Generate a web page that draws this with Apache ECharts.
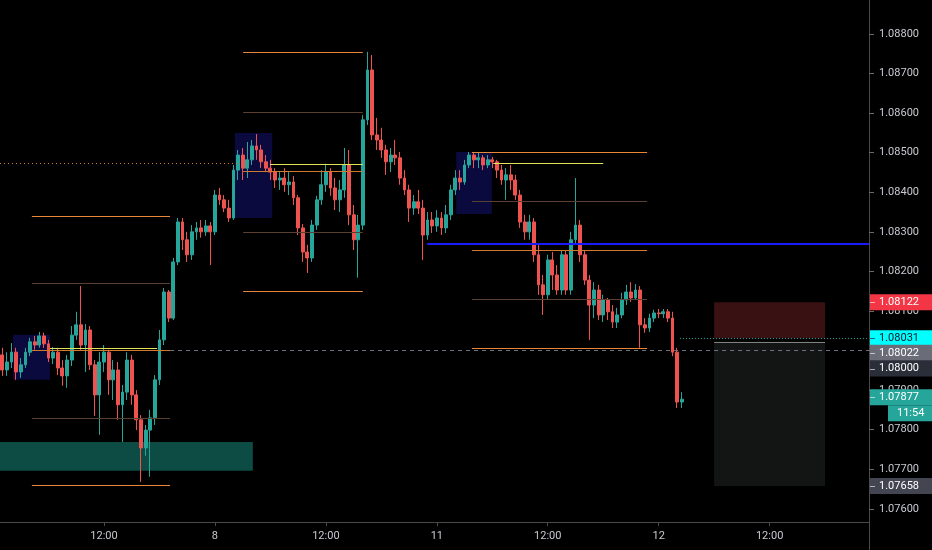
<!DOCTYPE html>
<html><head><meta charset="utf-8">
<script src="https://cdn.jsdelivr.net/npm/echarts@6/dist/echarts.min.js"></script>
<style>html,body{margin:0;padding:0;background:#000;}#c{width:932px;height:550px;}</style>
</head><body><div id="c"></div>
<script>
// ---- data ----
// 30-minute EURUSD candles: [open, close, low, high]
const candles = [
[1.07989,1.07951,1.07936,1.08007],[1.07951,1.07971,1.07936,1.07996],[1.07971,1.07996,1.07956,1.08019],[1.07996,1.07946,1.07926,1.08007],
[1.07946,1.07964,1.07931,1.07981],[1.07964,1.07996,1.07956,1.08007],[1.07996,1.08022,1.07986,1.08032],[1.08022,1.08014,1.08002,1.08037],
[1.08014,1.08037,1.08007,1.08047],[1.08037,1.08017,1.08007,1.08045],[1.08017,1.07981,1.07971,1.08027],[1.07981,1.07996,1.07966,1.08009],
[1.07996,1.07956,1.07938,1.08007],[1.07956,1.07936,1.07911,1.07976],[1.07936,1.07976,1.07906,1.07989],[1.07976,1.08039,1.07961,1.08062],
[1.08039,1.08065,1.08027,1.08098],[1.08065,1.08014,1.08002,1.08163],[1.08014,1.08052,1.07946,1.08067],[1.08052,1.07964,1.07951,1.08062],
[1.07964,1.07888,1.07835,1.07976],[1.07888,1.07971,1.07787,1.07996],[1.07971,1.07996,1.07946,1.08014],[1.07996,1.07926,1.07888,1.08002],
[1.07926,1.07951,1.07875,1.07976],[1.07951,1.07863,1.07825,1.07971],[1.07863,1.07895,1.07769,1.07913],[1.07895,1.07976,1.07875,1.07996],
[1.07976,1.07888,1.07863,1.07989],[1.07888,1.07825,1.07799,1.07900],[1.07825,1.07754,1.07668,1.07837],[1.07754,1.07799,1.07734,1.07812],
[1.07799,1.07830,1.07681,1.07850],[1.07830,1.07926,1.07812,1.07938],[1.07926,1.08027,1.07913,1.08052],[1.08027,1.08148,1.08014,1.08158],
[1.08148,1.08082,1.08072,1.08153],[1.08082,1.08224,1.08077,1.08234],[1.08224,1.08325,1.08216,1.08335],[1.08325,1.08280,1.08254,1.08335],
[1.08280,1.08242,1.08224,1.08300],[1.08242,1.08300,1.08229,1.08317],[1.08300,1.08310,1.08280,1.08325],[1.08310,1.08300,1.08285,1.08330],
[1.08300,1.08315,1.08290,1.08330],[1.08315,1.08300,1.08216,1.08325],[1.08300,1.08393,1.08292,1.08406],[1.08393,1.08381,1.08368,1.08411],
[1.08381,1.08360,1.08350,1.08393],[1.08360,1.08335,1.08325,1.08381],[1.08335,1.08456,1.08330,1.08469],[1.08456,1.08494,1.08431,1.08507],
[1.08494,1.08461,1.08431,1.08512],[1.08461,1.08482,1.08436,1.08527],[1.08482,1.08517,1.08469,1.08532],[1.08517,1.08507,1.08482,1.08547],
[1.08507,1.08477,1.08461,1.08520],[1.08477,1.08461,1.08451,1.08494],[1.08461,1.08451,1.08431,1.08482],[1.08451,1.08431,1.08411,1.08461],
[1.08431,1.08436,1.08406,1.08451],[1.08436,1.08419,1.08401,1.08461],[1.08419,1.08426,1.08393,1.08451],[1.08426,1.08386,1.08368,1.08441],
[1.08386,1.08310,1.08292,1.08393],[1.08310,1.08249,1.08224,1.08320],[1.08249,1.08234,1.08196,1.08267],[1.08234,1.08317,1.08224,1.08330],
[1.08317,1.08381,1.08305,1.08391],[1.08381,1.08419,1.08368,1.08456],[1.08419,1.08451,1.08401,1.08472],[1.08451,1.08411,1.08391,1.08461],
[1.08411,1.08381,1.08355,1.08436],[1.08381,1.08406,1.08350,1.08431],[1.08406,1.08469,1.08386,1.08512],[1.08469,1.08343,1.08317,1.08507],
[1.08343,1.08280,1.08254,1.08368],[1.08280,1.08317,1.08184,1.08343],[1.08317,1.08583,1.08305,1.08595],[1.08583,1.08709,1.08570,1.08755],
[1.08709,1.08545,1.08532,1.08747],[1.08545,1.08532,1.08507,1.08588],[1.08532,1.08507,1.08487,1.08563],[1.08507,1.08477,1.08444,1.08520],
[1.08477,1.08494,1.08451,1.08512],[1.08494,1.08487,1.08469,1.08532],[1.08487,1.08436,1.08419,1.08502],[1.08436,1.08406,1.08393,1.08456],
[1.08406,1.08360,1.08325,1.08419],[1.08360,1.08376,1.08343,1.08393],[1.08376,1.08360,1.08345,1.08406],[1.08360,1.08292,1.08229,1.08381],
[1.08292,1.08330,1.08280,1.08350],[1.08330,1.08315,1.08297,1.08350],[1.08315,1.08335,1.08300,1.08355],[1.08335,1.08310,1.08292,1.08350],
[1.08310,1.08343,1.08297,1.08368],[1.08343,1.08406,1.08330,1.08419],[1.08406,1.08436,1.08393,1.08456],[1.08436,1.08426,1.08406,1.08456],
[1.08426,1.08469,1.08419,1.08482],[1.08469,1.08494,1.08461,1.08502],[1.08494,1.08482,1.08461,1.08502],[1.08482,1.08487,1.08461,1.08499],
[1.08487,1.08469,1.08456,1.08494],[1.08469,1.08482,1.08461,1.08494],[1.08482,1.08477,1.08461,1.08489],[1.08477,1.08456,1.08436,1.08482],
[1.08456,1.08431,1.08419,1.08469],[1.08431,1.08444,1.08381,1.08461],[1.08444,1.08431,1.08406,1.08469],[1.08431,1.08393,1.08381,1.08444],
[1.08393,1.08325,1.08310,1.08406],[1.08325,1.08300,1.08280,1.08343],[1.08300,1.08325,1.08280,1.08343],[1.08325,1.08242,1.08224,1.08335],
[1.08242,1.08166,1.08141,1.08267],[1.08166,1.08141,1.08090,1.08191],[1.08141,1.08229,1.08128,1.08242],[1.08229,1.08191,1.08153,1.08249],
[1.08191,1.08153,1.08141,1.08216],[1.08153,1.08242,1.08141,1.08254],[1.08242,1.08153,1.08141,1.08254],[1.08153,1.08280,1.08141,1.08300],
[1.08280,1.08317,1.08267,1.08436],[1.08317,1.08242,1.08224,1.08330],[1.08242,1.08178,1.08166,1.08254],[1.08178,1.08115,1.08027,1.08191],
[1.08115,1.08153,1.08082,1.08173],[1.08153,1.08090,1.08077,1.08166],[1.08090,1.08128,1.08072,1.08141],[1.08128,1.08098,1.08077,1.08133],
[1.08098,1.08072,1.08057,1.08115],[1.08072,1.08090,1.08057,1.08108],[1.08090,1.08128,1.08082,1.08146],[1.08128,1.08148,1.08115,1.08166],
[1.08148,1.08133,1.08123,1.08173],[1.08133,1.08153,1.08128,1.08168],[1.08153,1.08065,1.08007,1.08163],[1.08065,1.08057,1.08045,1.08082],
[1.08057,1.08082,1.08047,1.08093],[1.08082,1.08095,1.08072,1.08103],[1.08095,1.08093,1.08082,1.08105],[1.08093,1.08098,1.08082,1.08105],
[1.08098,1.08082,1.08072,1.08105],[1.08082,1.07996,1.07986,1.08098],[1.07996,1.07870,1.07855,1.08007],[1.07870,1.07877,1.07855,1.07895]
];
// time slots (30 min each), including empty future space on the right
const slotCount = 188;
const timeSlots = Array.from({length: slotCount}, (_, i) => String(i));
const xTickIndex = [22, 46, 70, 94, 118, 142, 166];
const xTickLabels = ['12:00', '8', '12:00', '11', '12:00', '12', '12:00'];
// price range shown by the price scale
const priceMin = 1.0756674, priceMax = 1.0888592;

// drawings (x in time-slot units, y in price)
const blueZones = [[2.3, 10.3, 1.08040, 1.07926], [50.3, 58.4, 1.08550, 1.08335], [98.2, 105.9, 1.08502, 1.08345]];
const demandZone = [-0.5, 54.2, 1.07769, 1.07696];
const levelSets = [
  {from: 6.4, to: 36.3, levels: [1.08340, 1.08170, 1.08000, 1.07830, 1.07660]},
  {from: 52.1, to: 78.0, levels: [1.08755, 1.08603, 1.08452, 1.08300, 1.08150]},
  {from: 101.6, to: 139.5, levels: [1.08502, 1.08378, 1.08254, 1.08130, 1.08006]}
];
const yellowLines = [[10.3, 33.5, 1.08007], [57.9, 78.0, 1.08472], [106.2, 130.0, 1.08474]];
const dottedOrange = [-0.5, 51.4, 1.08474];
const blueLine = [91.9, 187.5, 1.08269];
const dashedGray = [36.3, 187.5, 1.08000];
const dottedTeal = [146.6, 187.5, 1.08031];
const positionTool = {from: 154.0, to: 178.0, stop: 1.08122, entry: 1.08031, entry2: 1.08022, target: 1.07658};
const priceTags = [
  {price: 1.08122, text: '1.08122', kind: 'red'},
  {price: 1.08031, text: '1.08031', kind: 'cyan'},
  {price: 1.08022, text: '1.08022', kind: 'gray'},
  {price: 1.08000, text: '1.08000', kind: 'dark'},
  {price: 1.07877, text: '1.07877', kind: 'teal'},
  {price: 1.07658, text: '1.07658', kind: 'slate'}
];
const countdown = '11:54';

// ---- chart ----
const UP = '#26a69a', DOWN = '#ef5350';
const FONT = 'Roboto, "Liberation Sans", sans-serif';
const chart = echarts.init(document.getElementById('c'));

function hline(x1, x2, y, style) {
  return [{coord: [x1, y], lineStyle: style}, {coord: [x2, y]}];
}
const levelStyle = [
  {color: '#e8873a', width: 1, type: 'solid'},
  {color: '#5a4030', width: 1, type: 'solid'},
  {color: '#d07a30', width: 1, type: 'solid'},
  {color: '#5a4030', width: 1, type: 'solid'},
  {color: '#e8873a', width: 1, type: 'solid'}
];
const overLines = [];
levelSets.forEach(s => s.levels.forEach((lv, k) => overLines.push(hline(s.from, s.to, lv, levelStyle[k]))));
yellowLines.forEach(l => overLines.push(hline(l[0], l[1], l[2], {color: '#e3e35a', width: 1, type: 'solid'})));
overLines.push(hline(dottedOrange[0], dottedOrange[1], dottedOrange[2], {color: '#d9822b', width: 1, type: [1, 3]}));
overLines.push(hline(blueLine[0], blueLine[1], blueLine[2], {color: '#1a1aff', width: 2, type: 'solid'}));
overLines.push(hline(dottedTeal[0], dottedTeal[1], dottedTeal[2], {color: '#26a69a', width: 1, type: [1, 2]}));
overLines.push(hline(positionTool.from, positionTool.to, positionTool.entry2, {color: '#c9c9c9', width: 1, type: 'solid', opacity: 0.6}));

const underLines = [hline(dashedGray[0], dashedGray[1], dashedGray[2], {color: '#70737e', width: 1, type: [4, 4]})];

chart.setOption({
  animation: false,
  backgroundColor: '#000000',
  grid: {left: 0, right: 63, top: 0, bottom: 28},
  xAxis: [{
    type: 'category', data: timeSlots, boundaryGap: true,
    axisLine: {onZero: false, lineStyle: {color: '#4a4a4a'}},
    axisTick: {show: true, alignWithLabel: true, length: 4, lineStyle: {color: '#4a4a4a'}, interval: (i) => xTickIndex.includes(i)},
    axisLabel: {
      interval: (i) => xTickIndex.includes(i),
      formatter: (v, i) => { const k = xTickIndex.indexOf(Number(v)); return k >= 0 ? xTickLabels[k] : ''; },
      color: '#c8cad0', fontSize: 11, fontFamily: FONT, margin: 9
    },
    splitLine: {show: false}
  }, {
    type: 'value', min: -0.5, max: slotCount - 0.5, show: false, axisLine: {onZero: false}
  }],
  yAxis: [{
    type: 'value', position: 'right', min: priceMin, max: priceMax, splitNumber: 13, scale: true,
    axisLine: {show: true, onZero: false, lineStyle: {color: '#4a4a4a'}},
    axisTick: {show: true, length: 5, lineStyle: {color: '#6a6a6a'}},
    axisLabel: {showMinLabel: false, showMaxLabel: false, formatter: v => v.toFixed(5), color: '#c8cad0', fontSize: 11, fontFamily: FONT, margin: 10},
    splitLine: {show: false}
  }],
  series: [
    {
      type: 'line', xAxisIndex: 1, yAxisIndex: 0, data: [], z: 1, silent: true,
      markArea: {silent: true, data: [
        [{coord: [demandZone[0], demandZone[2]], itemStyle: {color: '#0d4c45'}}, {coord: [demandZone[1], demandZone[3]]}],
        [{coord: [positionTool.from, positionTool.stop], itemStyle: {color: '#3a1112'}}, {coord: [positionTool.to, positionTool.entry]}],
        [{coord: [positionTool.from, positionTool.entry2], itemStyle: {color: '#131414'}}, {coord: [positionTool.to, positionTool.target]}]
      ]},
      markLine: {silent: true, symbol: 'none', label: {show: false}, data: underLines}
    },
    {
      type: 'candlestick', xAxisIndex: 0, yAxisIndex: 0, data: candles, z: 2, barWidth: '72%',
      itemStyle: {color: UP, color0: DOWN, borderColor: UP, borderColor0: DOWN, borderWidth: 1}
    },
    {
      type: 'line', xAxisIndex: 1, yAxisIndex: 0, data: [], z: 3, silent: true,
      markArea: {silent: true, data: blueZones.map(b => [{coord: [b[0], b[2]], itemStyle: {color: 'rgba(24,24,150,0.42)'}}, {coord: [b[1], b[3]]}])},
      markLine: {silent: true, symbol: 'none', label: {show: false}, data: overLines}
    }
  ]
});

// price tags on the right scale
const tagStyle = {
  red: {bg: '#f23645', fg: '#ffffff', dy: 0},
  cyan: {bg: '#00ffff', fg: '#131722', dy: 0},
  gray: {bg: '#6a6d78', fg: '#ffffff', dy: 11},
  dark: {bg: '#2a2e39', fg: '#ffffff', dy: 18},
  teal: {bg: '#26a69a', fg: '#ffffff', dy: -2},
  slate: {bg: '#434651', fg: '#ffffff', dy: 0}
};
const axisX = 932 - 63;
const els = [{type: 'line', shape: {x1: axisX + 0.5, y1: 522, x2: axisX + 0.5, y2: 550}, style: {stroke: '#4a4a4a', lineWidth: 1}, z: 50}];
priceTags.forEach(t => {
  const st = tagStyle[t.kind];
  const y = chart.convertToPixel({yAxisIndex: 0}, t.price) + st.dy;
  els.push({type: 'rect', shape: {x: axisX + 1, y: y - 8, width: 63, height: 16}, style: {fill: st.bg}, z: 60});
  els.push({type: 'line', shape: {x1: axisX + 1, y1: Math.round(y) + 0.5, x2: axisX + 6, y2: Math.round(y) + 0.5}, style: {stroke: st.fg, lineWidth: 1, opacity: 0.6}, z: 61});
  els.push({type: 'text', x: axisX + 10, y: y, style: {text: t.text, fill: st.fg, font: '11px ' + FONT, verticalAlign: 'middle', align: 'left'}, z: 62});
  if (t.kind === 'teal') {
    els.push({type: 'rect', shape: {x: axisX + 19, y: y + 8, width: 44, height: 16}, style: {fill: st.bg}, z: 60});
    els.push({type: 'text', x: axisX + 28, y: y + 16, style: {text: countdown, fill: '#ffffff', font: '11px ' + FONT, verticalAlign: 'middle', align: 'left'}, z: 62});
  }
});
chart.setOption({graphic: els});
</script>
</body></html>
